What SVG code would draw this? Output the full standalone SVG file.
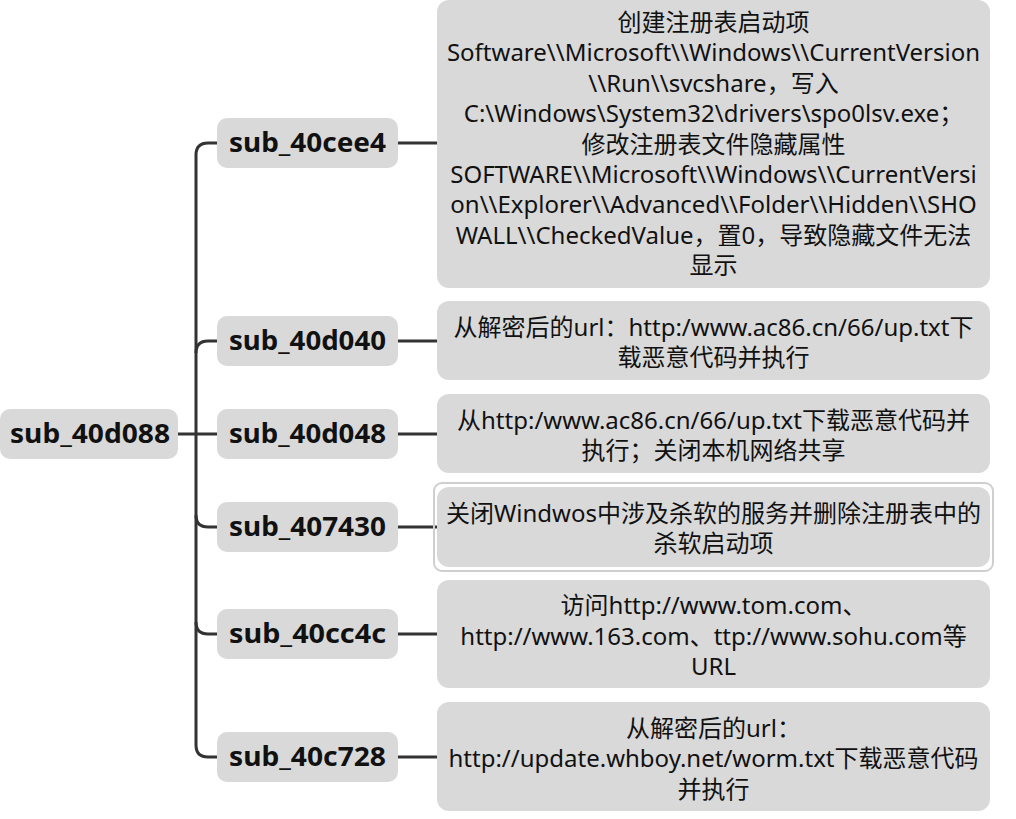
<svg xmlns="http://www.w3.org/2000/svg" width="1016" height="819" viewBox="0 0 1016 819">
<style>
.bg{fill:#ffffff}
.node rect{fill:#d9d9d9}
.node rect.sel{fill:none;stroke:#cfcfcf;stroke-width:2}
.lbl{font-family:"Noto Sans","Noto Sans CJK SC",sans-serif;font-weight:bold;font-size:26px;fill:#111;text-anchor:middle}
.txt{font-family:"Noto Sans","Noto Sans CJK SC",sans-serif;font-size:24px;fill:#111;text-anchor:middle}
.conn path{fill:none;stroke:#333;stroke-width:3;stroke-linecap:butt}
</style>
<rect class="bg" x="0" y="0" width="1016" height="819"/>
<g id="connectors" class="conn">
<path d="M178,434 H217"/>
<path d="M217,143 H208 Q196,143 196,155 V745 Q196,757 208,757 H217"/>
<path d="M196,353 Q196,341 208,341 H217"/>
<path d="M196,515 Q196,527 208,527 H217"/>
<path d="M196,622 Q196,634 208,634 H217"/>
<path d="M398,143 H437"/>
<path d="M398,341 H437"/>
<path d="M398,434 H437"/>
<path d="M398,527 H437"/>
<path d="M398,634 H437"/>
<path d="M398,757 H437"/>
</g>
<g id="root" class="node">
<rect x="0" y="409" width="178" height="50" rx="10"/>
<text class="lbl" x="90" y="443" textLength="160" lengthAdjust="spacingAndGlyphs">sub_40d088</text>
</g>
<g id="n_40cee4" class="node">
<rect x="217" y="118" width="181" height="50" rx="10"/>
<text class="lbl" x="307.5" y="152" textLength="157" lengthAdjust="spacingAndGlyphs">sub_40cee4</text>
</g>
<g id="n_40d040" class="node">
<rect x="217" y="316" width="181" height="50" rx="10"/>
<text class="lbl" x="307.5" y="350" textLength="157" lengthAdjust="spacingAndGlyphs">sub_40d040</text>
</g>
<g id="n_40d048" class="node">
<rect x="217" y="409" width="181" height="50" rx="10"/>
<text class="lbl" x="307.5" y="443" textLength="157" lengthAdjust="spacingAndGlyphs">sub_40d048</text>
</g>
<g id="n_407430" class="node">
<rect x="217" y="502" width="181" height="50" rx="10"/>
<text class="lbl" x="307.5" y="536" textLength="157" lengthAdjust="spacingAndGlyphs">sub_407430</text>
</g>
<g id="n_40cc4c" class="node">
<rect x="217" y="609" width="181" height="50" rx="10"/>
<text class="lbl" x="307.5" y="643" textLength="157" lengthAdjust="spacingAndGlyphs">sub_40cc4c</text>
</g>
<g id="n_40c728" class="node">
<rect x="217" y="732" width="181" height="50" rx="10"/>
<text class="lbl" x="307.5" y="766" textLength="157" lengthAdjust="spacingAndGlyphs">sub_40c728</text>
</g>
<g id="d_40cee4" class="node">
<rect x="437" y="0" width="553" height="288" rx="12"/>
<text class="txt" x="713.5" y="31">创建注册表启动项</text>
<text class="txt" x="713.5" y="61">Software\\Microsoft\\Windows\\CurrentVersion</text>
<text class="txt" x="713.5" y="92">\\Run\\svcshare，写入</text>
<text class="txt" x="713.5" y="122">C:\Windows\System32\drivers\spo0lsv.exe；</text>
<text class="txt" x="713.5" y="153">修改注册表文件隐藏属性</text>
<text class="txt" x="713.5" y="183">SOFTWARE\\Microsoft\\Windows\\CurrentVersi</text>
<text class="txt" x="713.5" y="213">on\\Explorer\\Advanced\\Folder\\Hidden\\SHO</text>
<text class="txt" x="713.5" y="244">WALL\\CheckedValue，置0，导致隐藏文件无法</text>
<text class="txt" x="713.5" y="274">显示</text>
</g>
<g id="d_40d040" class="node">
<rect x="437" y="301" width="553" height="79" rx="12"/>
<text class="txt" x="713.5" y="336">从解密后的url：http:/www.ac86.cn/66/up.txt下</text>
<text class="txt" x="713.5" y="366">载恶意代码并执行</text>
</g>
<g id="d_40d048" class="node">
<rect x="437" y="394" width="553" height="79" rx="12"/>
<text class="txt" x="713.5" y="429">从http:/www.ac86.cn/66/up.txt下载恶意代码并</text>
<text class="txt" x="713.5" y="459">执行；关闭本机网络共享</text>
</g>
<g id="d_407430" class="node">
<rect class="sel" x="434" y="483" width="559" height="88" rx="8"/>
<rect x="437" y="487" width="553" height="80" rx="12"/>
<text class="txt" x="713.5" y="522">关闭Windwos中涉及杀软的服务并删除注册表中的</text>
<text class="txt" x="713.5" y="552">杀软启动项</text>
</g>
<g id="d_40cc4c" class="node">
<rect x="437" y="580" width="553" height="108" rx="12"/>
<text class="txt" x="713.5" y="614">访问http://www.tom.com、</text>
<text class="txt" x="713.5" y="645">http://www.163.com、ttp://www.sohu.com等</text>
<text class="txt" x="713.5" y="675">URL</text>
</g>
<g id="d_40c728" class="node">
<rect x="437" y="702" width="553" height="109" rx="12"/>
<text class="txt" x="713.5" y="737">从解密后的url：</text>
<text class="txt" x="713.5" y="767">http://update.whboy.net/worm.txt下载恶意代码</text>
<text class="txt" x="713.5" y="798">并执行</text>
</g>
</svg>
